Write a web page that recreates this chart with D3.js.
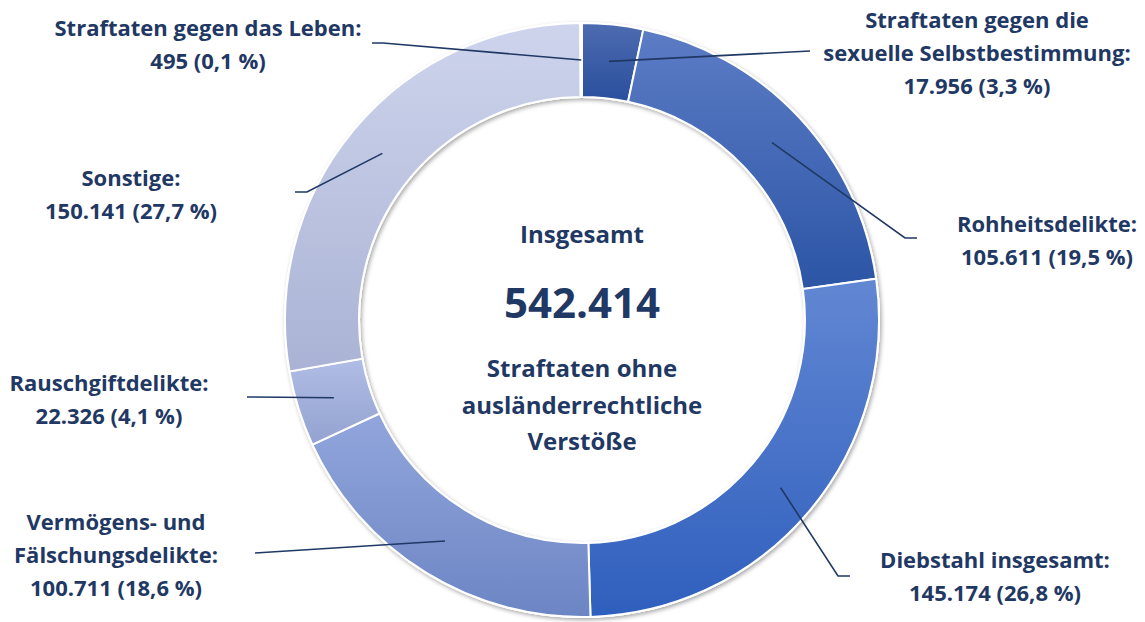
<!DOCTYPE html>
<html>
<head>
<meta charset="utf-8">
<script src="https://cdn.jsdelivr.net/npm/d3@7"></script>
<style>
  html, body { margin: 0; padding: 0; background: #fff; }
  svg { display: block; font-family: "Open Sans", Lato, sans-serif; font-weight: 700; }
</style>
</head>
<body>
<svg id="chart"></svg>
<script>
// categories in clockwise order starting at 12 o'clock
const categories = [
    "Straftaten gegen die sexuelle Selbstbestimmung",
    "Rohheitsdelikte",
    "Diebstahl insgesamt",
    "Vermögens- und Fälschungsdelikte",
    "Rauschgiftdelikte",
    "Sonstige",
    "Straftaten gegen das Leben"
];
const counts = [17956, 105611, 145174, 100711, 22326, 150141, 495];
const shares = ["3,3", "19,5", "26,8", "18,6", "4,1", "27,7", "0,1"];
const labelLines = [
    ["Straftaten gegen die", "sexuelle Selbstbestimmung:"],
    ["Rohheitsdelikte:"],
    ["Diebstahl insgesamt:"],
    ["Vermögens- und", "Fälschungsdelikte:"],
    ["Rauschgiftdelikte:"],
    ["Sonstige:"],
    ["Straftaten gegen das Leben:"]
];
const totalLabel = "542.414";
const centerTop = "Insgesamt";
const centerBottom = ["Straftaten ohne", "ausländerrechtliche", "Verstöße"];

// gradient colours per slice (top, bottom)
const sliceColors = [
    ["#4d6bb0", "#2a4f9d"],
    ["#5c7cc5", "#2c55a6"],
    ["#6287d3", "#2f5fbd"],
    ["#92a6dc", "#6c85c4"],
    ["#b0bde5", "#93a2d0"],
    ["#ced4ec", "#aab3d5"],
    ["#ced4ec", "#c9d0ea"]
];

// label layout: text centre x, first baseline y, leader end points
const layout = [
    {x: 977, y: 28, line: [[810, 51]]},
    {x: 1047, y: 232, line: [[905, 238], [917, 238]]},
    {x: 995, y: 568, line: [[838, 576], [850, 576]]},
    {x: 116, y: 530, line: [[255, 553]]},
    {x: 109, y: 391, line: [[247, 397]]},
    {x: 131, y: 186, line: [[307, 192], [295, 192]]},
    {x: 208, y: 36, line: [[383, 43], [372, 43]]}
];

const width = 1145, height = 622;
const cx = 582, cy = 320, outerR = 297, innerR = 223;
const textColor = "#1f3864";
const lineH = 33;
const fmt = d3.formatLocale({decimal: ",", thousands: ".", grouping: [3]}).format(",d");

const svg = d3.select("#chart").attr("width", width).attr("height", height);
const defs = svg.append("defs");

sliceColors.forEach((c, i) => {
    const g = defs.append("linearGradient").attr("id", "grad" + i)
        .attr("x1", 0).attr("y1", 0).attr("x2", 0).attr("y2", 1);
    g.append("stop").attr("offset", "0%").attr("stop-color", c[0]);
    g.append("stop").attr("offset", "100%").attr("stop-color", c[1]);
});

const shadow = defs.append("filter").attr("id", "shadow")
    .attr("x", "-10%").attr("y", "-10%").attr("width", "120%").attr("height", "120%");
shadow.append("feDropShadow").attr("dx", 1.5).attr("dy", 2).attr("stdDeviation", 2.2)
    .attr("flood-color", "#000").attr("flood-opacity", 0.35);

const pie = d3.pie().sort(null).value(d => d);
const arcs = pie(counts);
const arc = d3.arc().innerRadius(innerR).outerRadius(outerR);
const midArc = d3.arc().innerRadius((innerR + outerR) / 2).outerRadius((innerR + outerR) / 2);

const ring = svg.append("g").attr("transform", `translate(${cx},${cy})`);

// ring backdrop with shadow and white rim
ring.append("path")
    .attr("d", d3.arc().innerRadius(innerR - 1).outerRadius(outerR + 1)({startAngle: 0, endAngle: 2 * Math.PI}))
    .attr("fill", "#fff")
    .attr("filter", "url(#shadow)");

ring.selectAll("path.slice").data(arcs)
    .join("path")
    .attr("class", "slice")
    .attr("d", arc)
    .attr("fill", (d, i) => `url(#grad${i})`)
    .attr("stroke", "#fff")
    .attr("stroke-width", 2);

// leader lines from slice centroid to label
svg.append("g").selectAll("polyline").data(arcs)
    .join("polyline")
    .attr("points", (d, i) => {
        const c = midArc.centroid(d);
        const pts = [[cx + c[0], cy + c[1]]].concat(layout[i].line);
        return pts.map(p => p.join(",")).join(" ");
    })
    .attr("fill", "none")
    .attr("stroke", textColor)
    .attr("stroke-width", 1.6);

// labels
const labels = svg.append("g").attr("fill", textColor).attr("font-size", 22).attr("text-anchor", "middle");
categories.forEach((cat, i) => {
    const lines = labelLines[i].concat([`${fmt(counts[i])} (${shares[i]} %)`]);
    const t = labels.append("text").attr("x", layout[i].x).attr("y", layout[i].y);
    lines.forEach((l, j) => {
        t.append("tspan").attr("x", layout[i].x).attr("y", layout[i].y + j * lineH).text(l);
    });
});

// centre text
const center = svg.append("g").attr("fill", textColor).attr("text-anchor", "middle");
center.append("text").attr("x", cx).attr("y", 243).attr("font-size", 24).text(centerTop);
center.append("text").attr("x", cx).attr("y", 318).attr("font-size", 42).text(totalLabel);
centerBottom.forEach((l, j) => {
    center.append("text").attr("x", cx).attr("y", 377 + j * 36.5).attr("font-size", 24).text(l);
});
</script>
</body>
</html>
